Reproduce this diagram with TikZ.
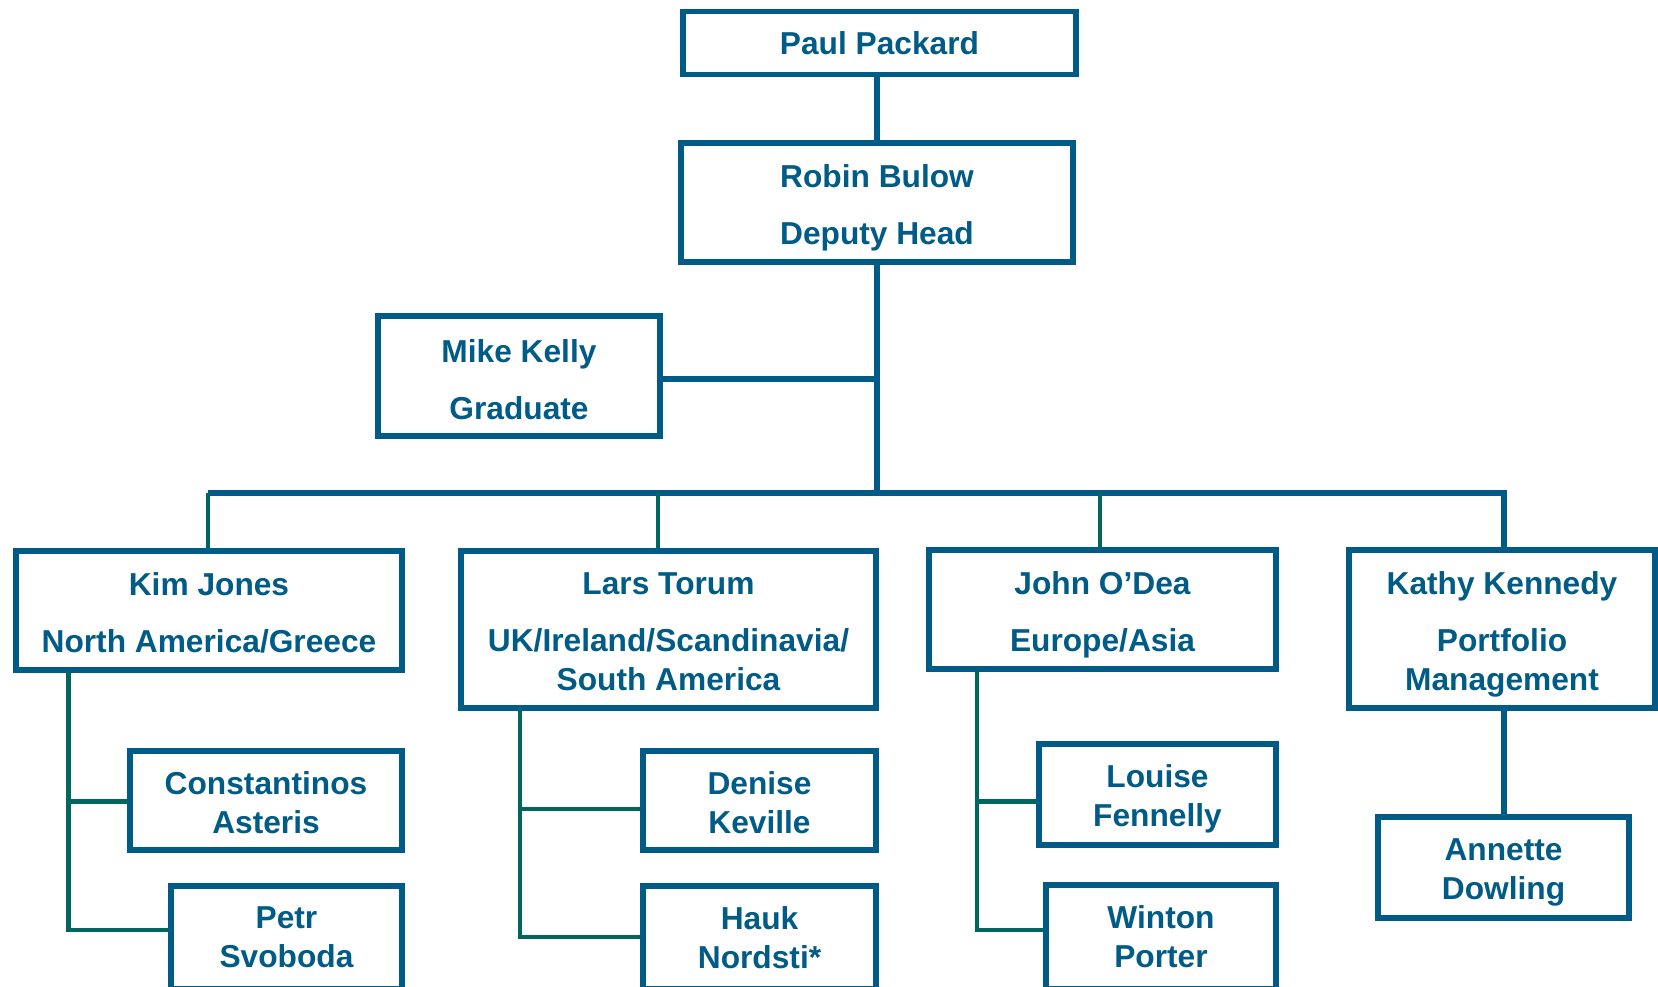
\documentclass[tikz,border=0pt]{standalone}
\usepackage{fontspec}
\setmainfont{Liberation Sans}
\definecolor{cblue}{RGB}{0,91,134}
\definecolor{cgreen}{RGB}{0,102,94}
\newcommand{\tp}[1]{\rule{0pt}{#1pt}}
\begin{document}
\begin{tikzpicture}[x=0.5pt,y=-0.5pt,
  box/.style={draw=cblue, line width=2.8pt, inner sep=0pt, align=center, text=cblue,
    font=\fontsize{15.85pt}{19.5pt}\selectfont\bfseries},
  sz/.style 2 args={minimum width=#1*0.5pt+1.5pt, minimum height=#2*0.5pt+1.5pt},
  bline/.style={draw=cblue, line width=2.6pt},
  gline/.style={draw=cgreen, line width=2.3pt}]
\useasboundingbox (0,0) rectangle (1658,986);
\clip (0,0) rectangle (1658,986);
% boxes
\node[box, sz={390}{60}]  (paul)   at (879.5,42.8) {Paul Packard};
\node[box, sz={389}{116}] (robin)  at (877,202.5)  {\tp{16.5}Robin Bulow\\[9pt]Deputy Head};
\node[box, sz={279}{117}] (mike)   at (519,376)    {\tp{15}Mike Kelly\\[9pt]Graduate};
\node[box, sz={383}{116}] (kim)    at (209,610.5)  {\tp{14}Kim Jones\\[9pt]North America/Greece};
\node[box, sz={412}{154}] (lars)   at (668.5,629.5) {\tp{13}Lars Torum\\[9pt]UK/Ireland/Scandinavia/\\South America};
\node[box, sz={344}{116}] (john)   at (1102.5,609.5) {\tp{17}John O’Dea\\[9pt]Europe/Asia};
\node[box, sz={303}{155}] (kathy)  at (1502,629)   {\tp{16.5}Kathy Kennedy\\[9pt]Portfolio\\Management};
\node[box, sz={269}{96}]  (const)  at (266,800.5)  {\tp{13.5}Constantinos\\Asteris};
\node[box, sz={228}{100}] (petr)   at (286.5,937.5) {Petr\\Svoboda};
\node[box, sz={230}{96}]  (denise) at (759.5,800.5) {\tp{13.5}Denise\\Keville};
\node[box, sz={230}{100}] (hauk)   at (759.5,937.5) {Hauk\\Nordsti*};
\node[box, sz={234}{98}]  (louise) at (1157.5,794.5) {\tp{16}Louise\\Fennelly};
\node[box, sz={227}{101}] (winton) at (1161,937)   {Winton\\Porter};
\node[box, sz={248}{98}]  (annette) at (1503.5,867.5) {\tp{16}Annette\\Dowling};
% helper coordinates
\coordinate (trunk) at (877,493);
\coordinate (busL) at (208,493);
\coordinate (busR) at (1504,493);
\coordinate (dLars) at (658,493);
\coordinate (dJohn) at (1100,493);
\coordinate (kimx) at (68.7,671);
\coordinate (larsx) at (520,709);
\coordinate (johnx) at (977,670);
\coordinate (kimb1) at (68.7,801.5);
\coordinate (kimb2) at (68.7,930);
\coordinate (larsb1) at (520,809);
\coordinate (larsb2) at (520,937);
\coordinate (johnb1) at (977,801.5);
\coordinate (johnb2) at (977,930);
% blue connectors
\draw[bline] (paul.south -| trunk) -- (robin.north -| trunk);
\draw[bline] (robin.south -| trunk) -- (trunk);
\draw[bline] (mike.east |- 0,379) -- (trunk |- 0,379);
\draw[bline] (busL) -- (busR) -- (busR |- kathy.north);
\draw[bline] (kathy.south -| busR) -- (annette.north -| busR);
% green connectors
\draw[gline] (busL) -- (busL |- kim.north);
\draw[gline] (dLars) -- (dLars |- lars.north);
\draw[gline] (dJohn) -- (dJohn |- john.north);
\draw[gline] (kimx) -- (kimb2) -- (kimb2 -| petr.west);
\draw[gline] (kimb1) -- (kimb1 -| const.west);
\draw[gline] (larsx) -- (larsb2) -- (larsb2 -| hauk.west);
\draw[gline] (larsb1) -- (larsb1 -| denise.west);
\draw[gline] (johnx) -- (johnb2) -- (johnb2 -| winton.west);
\draw[gline] (johnb1) -- (johnb1 -| louise.west);
\end{tikzpicture}
\end{document}
